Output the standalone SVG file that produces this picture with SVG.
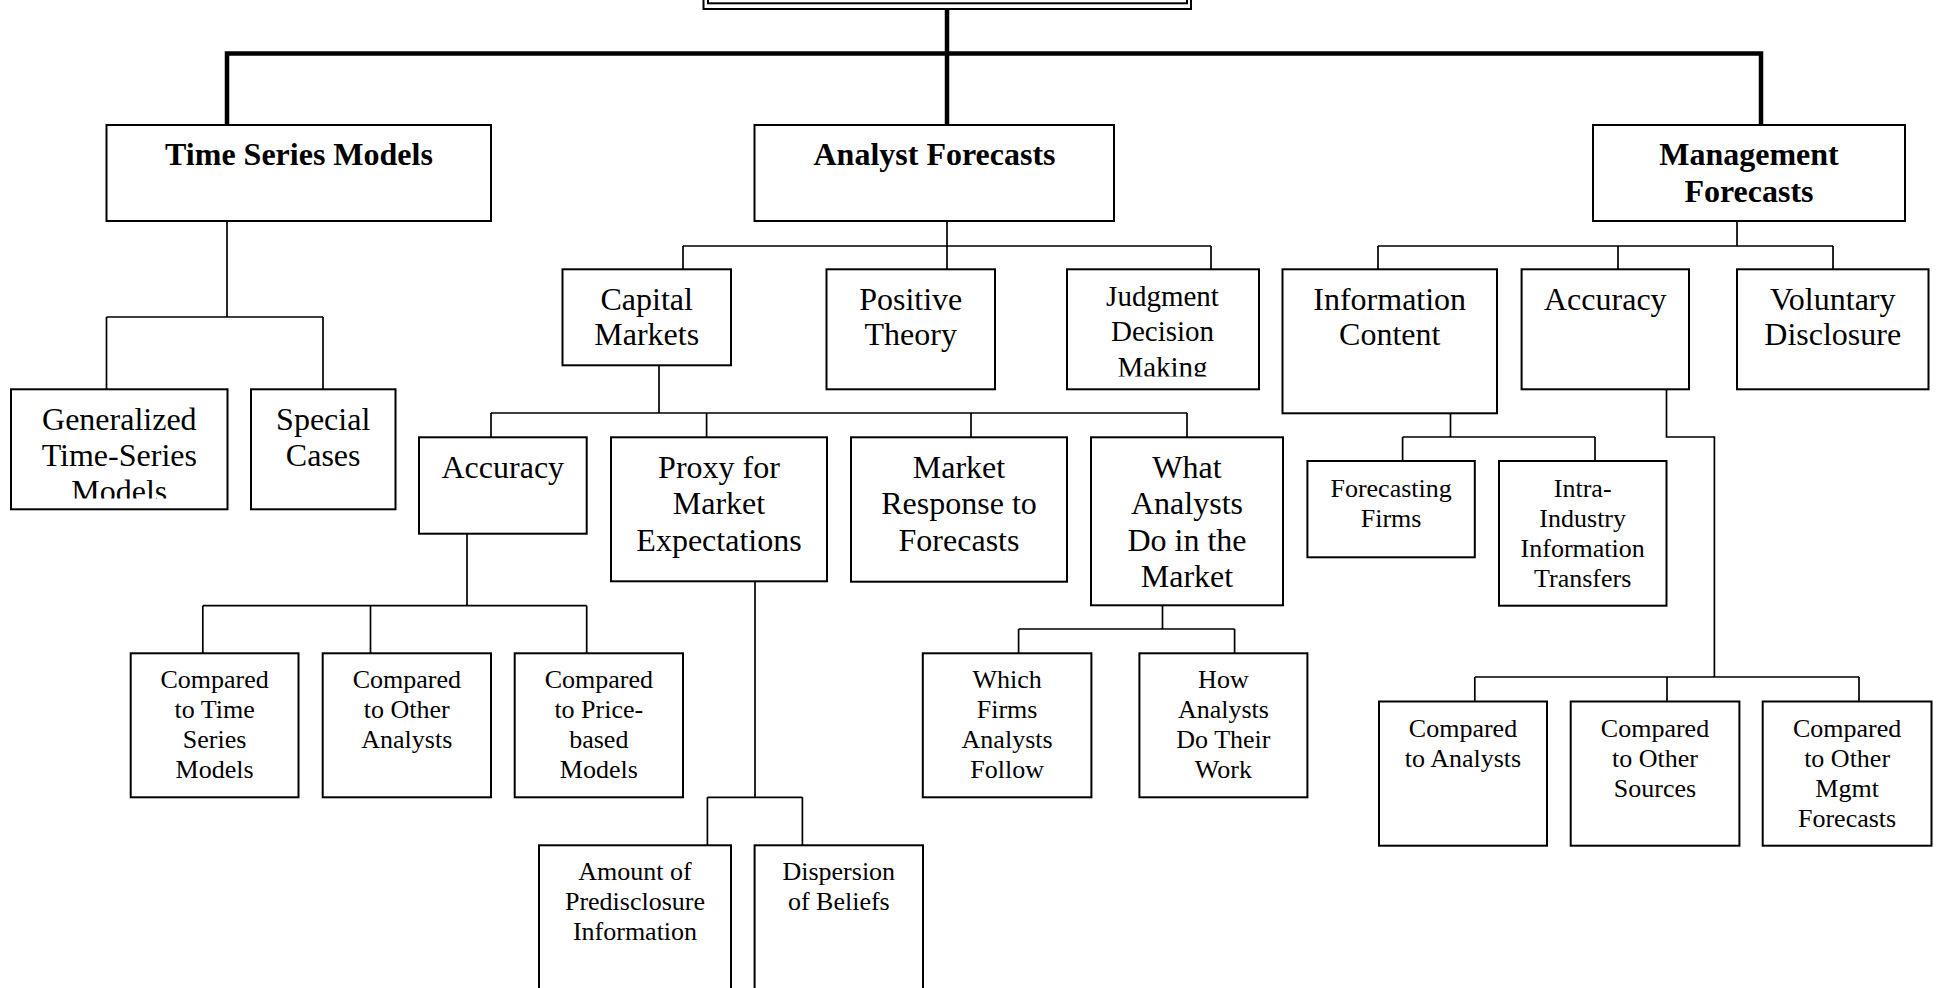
<svg xmlns="http://www.w3.org/2000/svg" width="1942" height="988" viewBox="0 0 1942 988">
<style>
.bg{fill:#fff}
.box{fill:#fff;stroke:#000;stroke-width:2}
.thick{fill:none;stroke:#000;stroke-width:4.5;stroke-linecap:square}
.thin{fill:none;stroke:#000;stroke-width:1.7}
text{font-family:"Liberation Serif","Times New Roman",serif;text-anchor:middle;fill:#000}
.t0{font-size:32px;font-weight:bold}
.t1{font-size:32px}
.tj{font-size:29px}
.t2{font-size:26px}
</style>
<defs>
<clipPath id="clipGen"><rect x="11" y="389" width="217" height="109.5"/></clipPath>
<clipPath id="clipJud"><rect x="1067" y="269" width="192" height="107.5"/></clipPath>
</defs>
<rect class="bg" x="0" y="0" width="1942" height="988"/>

<g id="connectors">
<path class="thick" d="M227,125 V53.5 H1761 V125"/>
<path class="thick" d="M947,5 V125"/>
<path class="thin" d="M227,221 V317 M106.5,317 H323 M106.5,317 V389 M323,317 V389"/>
<path class="thin" d="M947,221 V246 M683,246 H1211 M683,246 V269 M947,246 V269 M1211,246 V269"/>
<path class="thin" d="M1737,221 V246 M1378,246 H1833 M1378,246 V269 M1618,246 V269 M1833,246 V269"/>
<path class="thin" d="M659,365 V413 M491,413 H1187 M491,413 V437 M706.6,413 V437 M971,413 V437 M1187,413 V437"/>
<path class="thin" d="M467,533.7 V605.7 M202.8,605.7 H586.7 M202.8,605.7 V653.3 M370.5,605.7 V653.3 M586.7,605.7 V653.3"/>
<path class="thin" d="M755,581.3 V797.3 M707.4,797.3 H802.4 M707.4,797.3 V845.3 M802.4,797.3 V845.3"/>
<path class="thin" d="M1162.5,605 V629 M1018.6,629 H1234.6 M1018.6,629 V653.3 M1234.6,629 V653.3"/>
<path class="thin" d="M1450.5,413 V437 M1402.6,437 H1595 M1402.6,437 V461 M1595,437 V461"/>
<path class="thin" d="M1666.5,389 V437 H1714.4 V677 M1474.8,677 H1859 M1474.8,677 V701.5 M1667,677 V701.5 M1859,677 V701.5"/>
</g>

<g id="root">
<rect class="box" x="703.5" y="-50" width="487.5" height="59"/>
<rect class="box" x="708" y="-50" width="479" height="53.3"/>
</g>

<g id="time-series-models">
<rect class="box" x="106.5" y="125" width="384.5" height="96"/>
<text class="t0" x="299" y="165">Time Series Models</text>
</g>
<g id="analyst-forecasts">
<rect class="box" x="754.5" y="125" width="359.5" height="96"/>
<text class="t0" x="934.5" y="165">Analyst Forecasts</text>
</g>
<g id="management-forecasts">
<rect class="box" x="1593" y="125" width="312" height="96"/>
<text class="t0" x="1749" y="165">Management</text>
<text class="t0" x="1749" y="201.7">Forecasts</text>
</g>

<g id="generalized">
<rect class="box" x="11" y="389.3" width="216.5" height="120"/>
<g clip-path="url(#clipGen)">
<text class="t1" x="119.3" y="430">Generalized</text>
<text class="t1" x="119.3" y="466">Time-Series</text>
<text class="t1" x="119.3" y="502">Models</text>
</g>
</g>
<g id="special-cases">
<rect class="box" x="251" y="389.3" width="144.5" height="120"/>
<text class="t1" x="323.2" y="430">Special</text>
<text class="t1" x="323.2" y="466">Cases</text>
</g>

<g id="capital-markets">
<rect class="box" x="562.5" y="269.3" width="168.5" height="96"/>
<text class="t1" x="646.7" y="310">Capital</text>
<text class="t1" x="646.7" y="345">Markets</text>
</g>
<g id="positive-theory">
<rect class="box" x="826.5" y="269.3" width="168.5" height="120"/>
<text class="t1" x="910.7" y="310">Positive</text>
<text class="t1" x="910.7" y="345">Theory</text>
</g>
<g id="judgment">
<rect class="box" x="1067" y="269.3" width="192" height="120"/>
<g clip-path="url(#clipJud)">
<text class="tj" x="1162.5" y="306">Judgment</text>
<text class="tj" x="1162.5" y="341">Decision</text>
<text class="tj" x="1162.5" y="376.5">Making</text>
</g>
</g>
<g id="information-content">
<rect class="box" x="1282.5" y="269.3" width="214.5" height="144"/>
<text class="t1" x="1389.7" y="310">Information</text>
<text class="t1" x="1389.7" y="345">Content</text>
</g>
<g id="mgmt-accuracy">
<rect class="box" x="1521.6" y="269.3" width="167.4" height="120"/>
<text class="t1" x="1605.3" y="310">Accuracy</text>
</g>
<g id="voluntary-disclosure">
<rect class="box" x="1737" y="269.3" width="191.5" height="120"/>
<text class="t1" x="1832.7" y="310">Voluntary</text>
<text class="t1" x="1832.7" y="345">Disclosure</text>
</g>

<g id="analyst-accuracy">
<rect class="box" x="419" y="437.3" width="167.7" height="96.4"/>
<text class="t1" x="502.8" y="477.5">Accuracy</text>
</g>
<g id="proxy">
<rect class="box" x="611" y="437.3" width="216" height="144"/>
<text class="t1" x="719" y="477.5">Proxy for</text>
<text class="t1" x="719" y="514">Market</text>
<text class="t1" x="719" y="550.5">Expectations</text>
</g>
<g id="market-response">
<rect class="box" x="851" y="437.3" width="216" height="144.4"/>
<text class="t1" x="959" y="477.5">Market</text>
<text class="t1" x="959" y="514">Response to</text>
<text class="t1" x="959" y="550.5">Forecasts</text>
</g>
<g id="what-analysts">
<rect class="box" x="1091" y="437.3" width="192" height="168"/>
<text class="t1" x="1187" y="477.5">What</text>
<text class="t1" x="1187" y="514">Analysts</text>
<text class="t1" x="1187" y="550.5">Do in the</text>
<text class="t1" x="1187" y="587">Market</text>
</g>

<g id="cmp-time-series">
<rect class="box" x="130.7" y="653.3" width="167.8" height="144"/>
<text class="t2" x="214.6" y="688.3">Compared</text>
<text class="t2" x="214.6" y="718.3">to Time</text>
<text class="t2" x="214.6" y="748.3">Series</text>
<text class="t2" x="214.6" y="778.3">Models</text>
</g>
<g id="cmp-other-analysts">
<rect class="box" x="322.7" y="653.3" width="168.3" height="144"/>
<text class="t2" x="406.8" y="688.3">Compared</text>
<text class="t2" x="406.8" y="718.3">to Other</text>
<text class="t2" x="406.8" y="748.3">Analysts</text>
</g>
<g id="cmp-price-based">
<rect class="box" x="514.7" y="653.3" width="168.3" height="144"/>
<text class="t2" x="598.8" y="688.3">Compared</text>
<text class="t2" x="598.8" y="718.3">to Price-</text>
<text class="t2" x="598.8" y="748.3">based</text>
<text class="t2" x="598.8" y="778.3">Models</text>
</g>

<g id="amount-predisclosure">
<rect class="box" x="539" y="845.3" width="192" height="200"/>
<text class="t2" x="635" y="880">Amount of</text>
<text class="t2" x="635" y="910">Predisclosure</text>
<text class="t2" x="635" y="940">Information</text>
</g>
<g id="dispersion">
<rect class="box" x="754.6" y="845.3" width="168.4" height="200"/>
<text class="t2" x="838.8" y="880">Dispersion</text>
<text class="t2" x="838.8" y="910">of Beliefs</text>
</g>

<g id="which-firms">
<rect class="box" x="922.8" y="653.3" width="168.6" height="144"/>
<text class="t2" x="1007.1" y="688.3">Which</text>
<text class="t2" x="1007.1" y="718.3">Firms</text>
<text class="t2" x="1007.1" y="748.3">Analysts</text>
<text class="t2" x="1007.1" y="778.3">Follow</text>
</g>
<g id="how-analysts">
<rect class="box" x="1139.4" y="653.3" width="168" height="144"/>
<text class="t2" x="1223.4" y="688.3">How</text>
<text class="t2" x="1223.4" y="718.3">Analysts</text>
<text class="t2" x="1223.4" y="748.3">Do Their</text>
<text class="t2" x="1223.4" y="778.3">Work</text>
</g>

<g id="forecasting-firms">
<rect class="box" x="1307.4" y="461" width="167.4" height="96.3"/>
<text class="t2" x="1391.1" y="496.7">Forecasting</text>
<text class="t2" x="1391.1" y="526.7">Firms</text>
</g>
<g id="intra-industry">
<rect class="box" x="1499" y="461" width="167.5" height="144.7"/>
<text class="t2" x="1582.7" y="496.7">Intra-</text>
<text class="t2" x="1582.7" y="526.7">Industry</text>
<text class="t2" x="1582.7" y="556.7">Information</text>
<text class="t2" x="1582.7" y="586.7">Transfers</text>
</g>

<g id="cmp-analysts">
<rect class="box" x="1379" y="701.5" width="168" height="144.2"/>
<text class="t2" x="1463" y="736.7">Compared</text>
<text class="t2" x="1463" y="766.7">to Analysts</text>
</g>
<g id="cmp-other-sources">
<rect class="box" x="1570.7" y="701.5" width="168.7" height="144.2"/>
<text class="t2" x="1655" y="736.7">Compared</text>
<text class="t2" x="1655" y="766.7">to Other</text>
<text class="t2" x="1655" y="796.7">Sources</text>
</g>
<g id="cmp-other-mgmt">
<rect class="box" x="1762.7" y="701.5" width="168.8" height="144.2"/>
<text class="t2" x="1847.1" y="736.7">Compared</text>
<text class="t2" x="1847.1" y="766.7">to Other</text>
<text class="t2" x="1847.1" y="796.7">Mgmt</text>
<text class="t2" x="1847.1" y="826.7">Forecasts</text>
</g>
</svg>
